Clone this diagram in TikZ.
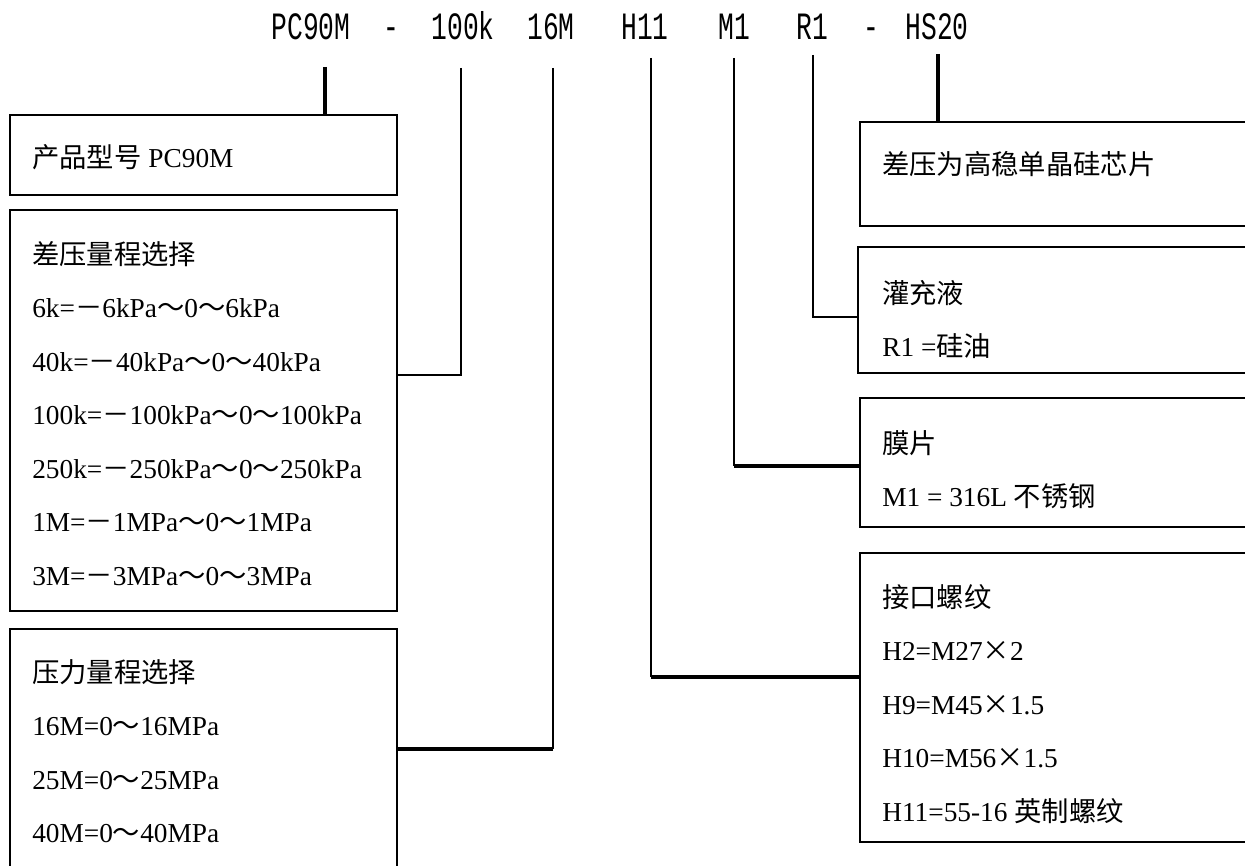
\documentclass[tikz,border=0pt]{standalone}
\usepackage{fontspec}
\setmainfont{Liberation Serif}
\newfontfamily\cjk{Noto Sans CJK SC}
\newfontfamily\codefont[FakeStretch=0.68]{Liberation Mono}
\usetikzlibrary{fit}
\newcommand{\fw}[1]{{\cjk #1}}

\tikzset{
  code/.style={font=\codefont\fontsize{29}{29}\selectfont, inner sep=0pt, anchor=base},
  box/.style={draw, line width=1.5pt, inner sep=0pt},
  entry/.style={font=\fontsize{20.5}{40.1}\selectfont, align=left, inner sep=0pt, anchor=base west},
  lead/.style={line width=1.1pt},
  boldlead/.style={line width=2.3pt}
}

\begin{document}
\begin{tikzpicture}[x=0.75pt, y=-0.75pt]
    \useasboundingbox (0,0) rectangle (1245,866);

    % order code
    \node[code] (pc) at (311,40) {PC90M};
    \node[code] (dashA) at (391,40) {-};
    \node[code] (krange) at (463,40) {100k};
    \node[code] (mrange) at (551,40) {16M};
    \node[code] (thr) at (645,40) {H11};
    \node[code] (mem) at (734,40) {M1};
    \node[code] (liq) at (812,40) {R1};
    \node[code] (dashB) at (871,40) {-};
    \node[code] (hs) at (937,40) {HS20};

    % left column (text nodes sit on their last line)
    \node[box, fit={(10,115) (397,195)}] (prod) {};
    \node[entry] (prodText) at (32,168) {\fw{产品型号} PC90M};

    \node[box, fit={(10,210) (397,611)}] (dp) {};
    \node[entry] (dpText) at (32,585) {\fw{差压量程选择}\\
        6k=\fw{－}6kPa\fw{～}0\fw{～}6kPa\\
        40k=\fw{－}40kPa\fw{～}0\fw{～}40kPa\\
        100k=\fw{－}100kPa\fw{～}0\fw{～}100kPa\\
        250k=\fw{－}250kPa\fw{～}0\fw{～}250kPa\\
        1M=\fw{－}1MPa\fw{～}0\fw{～}1MPa\\
        3M=\fw{－}3MPa\fw{～}0\fw{～}3MPa};

    \node[box, fit={(10,629) (397,900)}] (pr) {};
    \node[entry] (prText) at (32,842.5) {\fw{压力量程选择}\\
        16M=0\fw{～}16MPa\\
        25M=0\fw{～}25MPa\\
        40M=0\fw{～}40MPa};

    % right column
    \node[box, fit={(860,122) (1270,226)}] (chip) {};
    \node[entry] (chipText) at (882,175) {\fw{差压为高稳单晶硅芯片}};

    \node[box, fit={(858,247) (1270,373)}] (fill) {};
    \node[entry] (fillText) at (882,356.5) {\fw{灌充液}\\
        R1 =\fw{硅油}};

    \node[box, fit={(860,398) (1270,527)}] (diaph) {};
    \node[entry] (diaphText) at (882,506.5) {\fw{膜片}\\
        M1 = 316L \fw{不锈钢}};

    \node[box, fit={(860,553) (1270,842)}] (thread) {};
    \node[entry] (threadText) at (882,821) {\fw{接口螺纹}\\
        H2=M27\fw{×}2\\
        H9=M45\fw{×}1.5\\
        H10=M56\fw{×}1.5\\
        H11=55-16 \fw{英制螺纹}};

    % leads
    \coordinate (pcTop) at (325,67);
    \coordinate (kTop) at (461,68);
    \coordinate (kBend) at (461,375);
    \coordinate (mTop) at (553,68);
    \coordinate (mBend) at (553,749);
    \coordinate (thrTop) at (651,58);
    \coordinate (thrBend) at (651,677);
    \coordinate (memTop) at (734,58);
    \coordinate (memBend) at (734,466);
    \coordinate (liqTop) at (813,55);
    \coordinate (liqBend) at (813,317);
    \coordinate (hsTop) at (938,54);

    \draw[boldlead] (pcTop) -- (pcTop |- prod.north);
    \draw[lead] (kTop) -- (kBend) -- (kBend -| dp.east);
    \draw[lead] (mTop) -- (mBend);
    \draw[boldlead] (mBend) -- (mBend -| pr.east);
    \draw[lead] (thrTop) -- (thrBend);
    \draw[boldlead] (thrBend) -- (thrBend -| thread.west);
    \draw[lead] (memTop) -- (memBend);
    \draw[boldlead] (memBend) -- (memBend -| diaph.west);
    \draw[lead] (liqTop) -- (liqBend) -- (liqBend -| fill.west);
    \draw[boldlead] (hsTop) -- (hsTop |- chip.north);
\end{tikzpicture}
\end{document}
